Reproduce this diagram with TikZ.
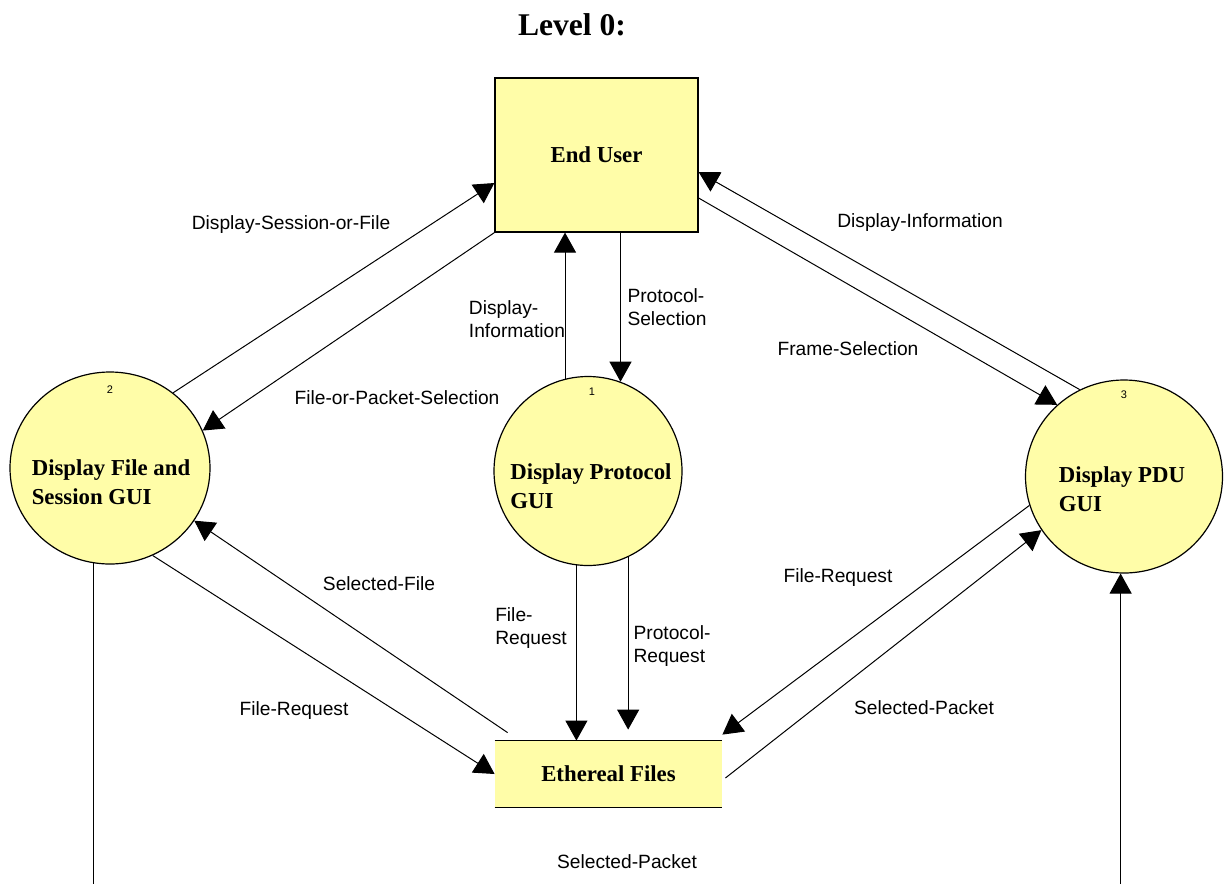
\documentclass[tikz,border=0pt]{standalone}
\usepackage{fontspec}
\setmainfont{Liberation Serif}
\setsansfont{Liberation Sans}
\usetikzlibrary{arrows.meta,shapes.geometric,calc}
\definecolor{dfdyellow}{RGB}{255,253,168}
\begin{document}
\begin{tikzpicture}[x=0.5pt,y=-0.5pt,
  proc/.style={ellipse,draw=black,line width=0.6pt,fill=dfdyellow,inner sep=0pt},
  ptext/.style={font=\fontsize{11.4pt}{14.5pt}\selectfont\bfseries,align=left,inner sep=0pt},
  pnum/.style={font=\sffamily\fontsize{5.5pt}{6pt}\selectfont,inner sep=0pt},
  flow/.style={line width=0.5pt,-{Triangle[length=10pt,width=11pt]}},
  plain/.style={line width=0.5pt},
  lbl/.style={font=\sffamily\fontsize{9.6pt}{11.5pt}\selectfont,align=left,inner sep=0pt}]
\useasboundingbox (0,0) rectangle (1225,884);
\fill[white] (0,0) rectangle (1225,884);

\node[font=\fontsize{15.8pt}{18pt}\selectfont\bfseries] (title) at (572,25) {Level 0:};

% End user
\node[draw=black,line width=0.6pt,fill=dfdyellow,minimum width=101.5pt,minimum height=77pt,inner sep=0pt] (eu) at (596.5,155) {};
\node[ptext] (eut) at (596.5,155) {End User};

% Processes
\node[proc,minimum width=100pt,minimum height=96pt] (c2) at (110,468) {};
\node[ptext] (c2t) at (111,482) {Display File and\\Session GUI};
\node[pnum] (c2n) at (110,390) {2};

\node[proc,minimum width=94pt,minimum height=94.5pt] (c1) at (588,471) {};
\node[ptext] (c1t) at (591,486) {Display Protocol\\GUI};
\node[pnum] (c1n) at (592,392) {1};

\node[proc,minimum width=98.5pt,minimum height=96.5pt] (c3) at (1124,476.5) {};
\node[ptext] (c3t) at (1122,489) {Display PDU\\GUI};
\node[pnum] (c3n) at (1124,395) {3};

% Ethereal files (data store)
\node[fill=dfdyellow,minimum width=113.5pt,minimum height=33pt,inner sep=0pt] (ef) at (608.5,774) {};
\draw[line width=0.6pt] (ef.north west) -- (ef.north east);
\draw[line width=0.6pt] (ef.south west) -- (ef.south east);
\node[ptext] (eft) at (608.5,774) {Ethereal Files};

\coordinate (bl) at (93,884);
\coordinate (br) at (1120,884);

% Flows between circle 2 and End User
\draw[flow] (c2.50) -- ($(eu.west)+(0,28)$);
\draw[flow] (eu.south west) -- (c2.22);
% circle 1 and End User
\draw[flow] (c1.104) -- (c1.104 |- eu.south);
\draw[flow] (c1.70 |- eu.south) -- (c1.70);
% circle 3 and End User
\draw[flow] (c3.117) -- ($(eu.east)+(0,17)$);
\draw[flow] ($(eu.east)+(0,43)$) -- (c3.133);
% circle 2 and Ethereal Files
\draw[flow] ($(ef.north west)+(13,-8)$) -- (c2.-32);
\draw[flow] (c2.-64) -- (ef.west);
% circle 1 and Ethereal Files
\draw[flow] (c1.-97) -- (c1.-97 |- ef.north);
\draw[flow,shorten >=5.5pt] (c1.-65) -- (c1.-65 |- ef.north);
% circle 3 and Ethereal Files
\draw[flow] (c3.197) -- ($(ef.north east)+(0,-6)$);
\draw[flow] ($(ef.east)+(3,4)$) -- (c3.213);
% bottom flow
\draw[plain] (c2.-100) -- (c2.-100 |- bl);
\draw[flow] (br -| c3.-92) -- (c3.-92);

% Labels
\node[lbl] (l1) at (291,225) {Display-Session-or-File};
\node[lbl] (l2) at (397,398) {File-or-Packet-Selection};
\node[lbl] (l3) at (517,319) {Display-\\Information};
\node[lbl] (l4) at (667,307) {Protocol-\\Selection};
\node[lbl] (l5) at (920,223) {Display-Information};
\node[lbl] (l6) at (848,349) {Frame-Selection};
\node[lbl] (l7) at (379,584) {Selected-File};
\node[lbl] (l8) at (294,711) {File-Request};
\node[lbl] (l9) at (531,628) {File-\\Request};
\node[lbl] (l10) at (672,646) {Protocol-\\Request};
\node[lbl] (l11) at (838,578) {File-Request};
\node[lbl] (l12) at (924,708) {Selected-Packet};
\node[lbl] (l13) at (627,862) {Selected-Packet};
\end{tikzpicture}
\end{document}
